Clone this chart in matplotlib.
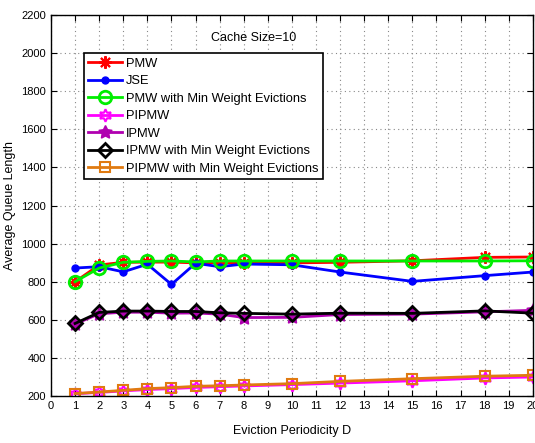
import matplotlib
matplotlib.use('Agg')
from matplotlib import pyplot as plt

plt.rcParams['font.family'] = ['Liberation Sans', 'DejaVu Sans']

d = [1, 2, 3, 4, 5, 6, 7, 8, 10, 12, 15, 18, 20]
pmw = [800, 888, 902, 903, 903, 899, 900, 899, 899, 902, 910, 928, 930]
jse = [872, 879, 852, 892, 786, 897, 879, 893, 889, 851, 802, 832, 851]
pmw_min = [800, 872, 902, 907, 909, 904, 909, 909, 909, 909, 909, 909, 910]
pipmw = [212, 219, 227, 234, 239, 245, 249, 253, 260, 268, 280, 295, 300]
ipmw = [578, 632, 640, 640, 635, 636, 630, 612, 613, 628, 630, 642, 650]
ipmw_min = [581, 639, 646, 646, 644, 644, 637, 634, 630, 635, 634, 647, 635]
pipmw_min = [213, 221, 230, 239, 244, 251, 254, 258, 265, 277, 291, 304, 309]

fig = plt.figure(figsize=(5.35, 4.43), dpi=100)
ax = fig.add_axes([0.0953, 0.106, 0.9007, 0.86])

orange = '#E07A10'
purple = '#B000B0'
ax.plot(d, pmw, color='red', lw=2, marker=(8, 2, 0), ms=9, mew=1.5, label='PMW')
ax.plot(d, jse, color='blue', lw=2, marker='.', ms=10, label='JSE')
ax.plot(d, pmw_min, color='#00EE00', lw=2, marker='o', ms=9, mfc='none', mew=2,
        label='PMW with Min Weight Evictions')
ax.plot(d, pipmw, color='#FF00FF', lw=2, marker=(6, 1, 0), ms=9, mfc='none', mew=1.5,
        label='PIPMW')
ax.plot(d, ipmw, color=purple, lw=2, marker=(5, 1, 0), ms=10, label='IPMW')
ax.plot(d, ipmw_min, color='black', lw=2, marker='D', ms=7.5, mfc='none', mew=2,
        label='IPMW with Min Weight Evictions')
ax.plot(d, pipmw_min, color=orange, lw=2, marker='s', ms=7.5, mfc='none', mew=1.5,
        label='PIPMW with Min Weight Evictions')

ax.set_xlim(0, 20)
ax.set_ylim(200, 2200)
ax.set_xticks(range(0, 21))
ax.set_yticks(range(200, 2201, 200))
ax.tick_params(direction='in', labelsize=8, top=True, right=True, length=4)
ax.grid(True, linestyle=(0, (1, 3)), color='#888888', lw=0.8)
for s in ax.spines.values():
    s.set_linewidth(1)

ax.set_xlabel('Eviction Periodicity D', fontsize=9, labelpad=10)
ax.set_ylabel('Average Queue Length', fontsize=9, labelpad=4)
ax.text(0.42, 0.94, 'Cache Size=10', transform=ax.transAxes, fontsize=9,
        ha='center', va='center')

leg = ax.legend(loc='upper left', bbox_to_anchor=(0.068, 0.9), fontsize=9.3,
                fancybox=False, edgecolor='black', framealpha=1,
                handlelength=2.6, borderpad=0.35, labelspacing=0.42,
                handletextpad=0.3, borderaxespad=0)
leg.get_frame().set_linewidth(1.2)

fig.savefig('out.png', dpi=100)
